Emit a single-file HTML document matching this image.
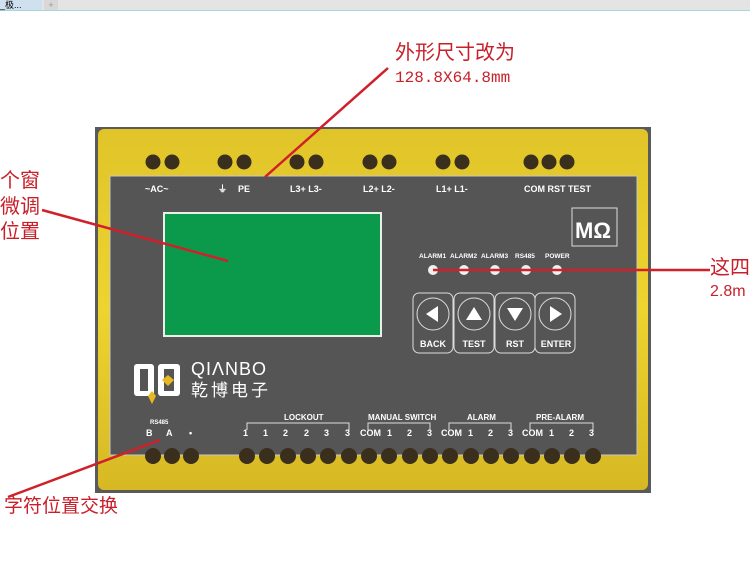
<!DOCTYPE html>
<html><head><meta charset="utf-8"><style>
body{margin:0;width:750px;height:573px;background:#fff;overflow:hidden;position:relative;font-family:"Liberation Sans","Noto Sans CJK SC",sans-serif}
.r{position:absolute;color:#c8202a;font-size:19px;font-family:"Liberation Sans","Noto Sans CJK SC",sans-serif;white-space:nowrap;line-height:1}
</style></head><body>
<div style="position:absolute;left:0;top:0;width:750px;height:10px;background:#e4e4e4;border-bottom:1px solid #a8d4e0"></div>
<div style="position:absolute;left:0;top:0;width:42px;height:10px;background:#cfe0ee;font-size:9px;line-height:10px">_极...</div>
<div style="position:absolute;left:44px;top:0;width:14px;height:10px;background:#d8d8d8;font-size:9px;line-height:10px;color:#999;text-align:center">+</div>
<svg width="750" height="573" style="position:absolute;left:0;top:0" font-family="Liberation Sans, sans-serif">
<defs><linearGradient id="y" x1="0" y1="0" x2="0" y2="1"><stop offset="0" stop-color="#e0c42a"/><stop offset="0.5" stop-color="#eed42e"/><stop offset="1" stop-color="#d6b824"/></linearGradient></defs>
<rect x="95" y="127" width="556" height="366" fill="#5a5a58"/>
<rect x="98" y="129" width="550" height="361" rx="6" fill="url(#y)"/>
<rect x="110" y="176" width="527" height="279" fill="#555555" stroke="#c8c8c0" stroke-width="1"/>
<g fill="#3a2f1c">
<circle cx="153" cy="162" r="7.5"/><circle cx="172" cy="162" r="7.5"/>
<circle cx="225" cy="162" r="7.5"/><circle cx="244" cy="162" r="7.5"/>
<circle cx="297" cy="162" r="7.5"/><circle cx="316" cy="162" r="7.5"/>
<circle cx="370" cy="162" r="7.5"/><circle cx="389" cy="162" r="7.5"/>
<circle cx="443" cy="162" r="7.5"/><circle cx="462" cy="162" r="7.5"/>
<circle cx="531" cy="162" r="7.5"/><circle cx="549" cy="162" r="7.5"/><circle cx="567" cy="162" r="7.5"/>
<circle cx="153" cy="456" r="8"/><circle cx="172" cy="456" r="8"/><circle cx="191" cy="456" r="8"/>
<circle cx="247" cy="456" r="8"/><circle cx="267" cy="456" r="8"/><circle cx="288" cy="456" r="8"/><circle cx="308" cy="456" r="8"/><circle cx="328" cy="456" r="8"/><circle cx="349" cy="456" r="8"/><circle cx="369" cy="456" r="8"/><circle cx="389" cy="456" r="8"/><circle cx="410" cy="456" r="8"/><circle cx="430" cy="456" r="8"/><circle cx="450" cy="456" r="8"/><circle cx="471" cy="456" r="8"/><circle cx="491" cy="456" r="8"/><circle cx="511" cy="456" r="8"/><circle cx="532" cy="456" r="8"/><circle cx="552" cy="456" r="8"/><circle cx="572" cy="456" r="8"/><circle cx="593" cy="456" r="8"/>
</g>
<g fill="#fff" font-size="9" font-weight="bold">
<text x="145" y="192">~AC~</text><text x="218" y="192">⏚</text><text x="238" y="192">PE</text>
<text x="290" y="192">L3+ L3-</text><text x="363" y="192">L2+ L2-</text><text x="436" y="192">L1+ L1-</text>
<text x="524" y="192">COM RST TEST</text>
</g>
<rect x="164" y="213" width="217" height="123" fill="#0b9a4c" stroke="#e8f0e8" stroke-width="2"/>
<rect x="572" y="208" width="45" height="38" fill="none" stroke="#ddd" stroke-width="1"/>
<text x="575" y="238" fill="#fff" font-size="22" font-weight="bold">MΩ</text>
<g fill="#fff" font-size="6.5" font-weight="bold">
<text x="419" y="258">ALARM1</text><text x="450" y="258">ALARM2</text><text x="481" y="258">ALARM3</text><text x="515" y="258">RS485</text><text x="545" y="258">POWER</text>
</g>
<g fill="#f0f0f0"><circle cx="433" cy="270" r="5"/><circle cx="464" cy="270" r="5"/><circle cx="495" cy="270" r="5"/><circle cx="526" cy="270" r="5"/><circle cx="557" cy="270" r="5"/></g>
<g fill="none" stroke="#ddd" stroke-width="1">
<rect x="413" y="293" width="40" height="60" rx="6"/><rect x="454" y="293" width="40" height="60" rx="6"/><rect x="495" y="293" width="40" height="60" rx="6"/><rect x="535" y="293" width="40" height="60" rx="6"/>
<circle cx="433" cy="314" r="16"/><circle cx="474" cy="314" r="16"/><circle cx="515" cy="314" r="16"/><circle cx="555" cy="314" r="16"/>
</g>
<g fill="#fff">
<polygon points="426,314 438,306 438,322"/><polygon points="474,307 482,320 466,320"/><polygon points="515,321 507,308 523,308"/><polygon points="562,314 550,306 550,322"/>
</g>
<g fill="#fff" font-size="9" font-weight="bold" text-anchor="middle">
<text x="433" y="347">BACK</text><text x="474" y="347">TEST</text><text x="515" y="347">RST</text><text x="556" y="347">ENTER</text>
</g>
<rect x="134" y="364" width="20" height="32" rx="3" fill="#fff"/><rect x="140" y="369" width="8" height="22" fill="#555"/>
<rect x="158" y="364" width="22" height="32" rx="3" fill="#fff"/><rect x="164" y="369" width="10" height="22" fill="#555"/>
<polygon points="152,391 156,396 152,404 148,396" fill="#e8b820"/><polygon points="168,375 174,380 168,386 162,380" fill="#e8b820"/>
<text x="191" y="375" fill="#fff" font-size="18" letter-spacing="1">QIΛNBO</text>
<text x="191" y="396" fill="#fff" font-size="17" font-family="Noto Sans CJK SC" letter-spacing="3">乾博电子</text>
<g fill="#fff" font-size="7" font-weight="bold">
<text x="150" y="424" font-size="6">RS485</text>
</g>
<g fill="#fff" font-size="9" font-weight="bold">
<text x="146" y="436">B</text><text x="166" y="436">A</text><text x="189" y="436">•</text>
<text x="284" y="420" font-size="8">LOCKOUT</text><text x="368" y="420" font-size="8">MANUAL SWITCH</text><text x="467" y="420" font-size="8">ALARM</text><text x="536" y="420" font-size="8">PRE-ALARM</text>
<text x="243" y="436">1</text><text x="263" y="436">1</text><text x="283" y="436">2</text><text x="304" y="436">2</text><text x="324" y="436">3</text><text x="345" y="436">3</text>
<text x="360" y="436">COM</text><text x="387" y="436">1</text><text x="407" y="436">2</text><text x="427" y="436">3</text>
<text x="441" y="436">COM</text><text x="468" y="436">1</text><text x="488" y="436">2</text><text x="508" y="436">3</text>
<text x="522" y="436">COM</text><text x="549" y="436">1</text><text x="569" y="436">2</text><text x="589" y="436">3</text>
</g>
<g fill="none" stroke="#ddd" stroke-width="1">
<polyline points="247,430 247,423 349,423 349,430"/><polyline points="368,430 368,423 430,423 430,430"/><polyline points="449,430 449,423 511,423 511,430"/><polyline points="530,430 530,423 593,423 593,430"/>
</g>
<g stroke="#d0202a" stroke-width="2.5" fill="none">
<line x1="388" y1="68" x2="265" y2="177"/>
<line x1="42" y1="210" x2="228" y2="261"/>
<line x1="433" y1="270" x2="710" y2="270"/>
<line x1="8" y1="497" x2="160" y2="440"/>
</g>
</svg>
<div class="r" style="left:395px;top:43px;font-size:20px">外形尺寸改为</div>
<div class="r" style="left:395px;top:70px;font-size:16px;font-family:'Liberation Mono',monospace">128.8X64.8mm</div>
<div class="r" style="left:0;top:171px;font-size:20px">个窗</div>
<div class="r" style="left:0;top:197px;font-size:20px">微调</div>
<div class="r" style="left:0;top:222px;font-size:20px">位置</div>
<div class="r" style="left:710px;top:258px;font-size:20px">这四</div>
<div class="r" style="left:710px;top:284px;font-size:16px">2.8m</div>
<div class="r" style="left:4px;top:497px">字符位置交换</div>
</body></html>
